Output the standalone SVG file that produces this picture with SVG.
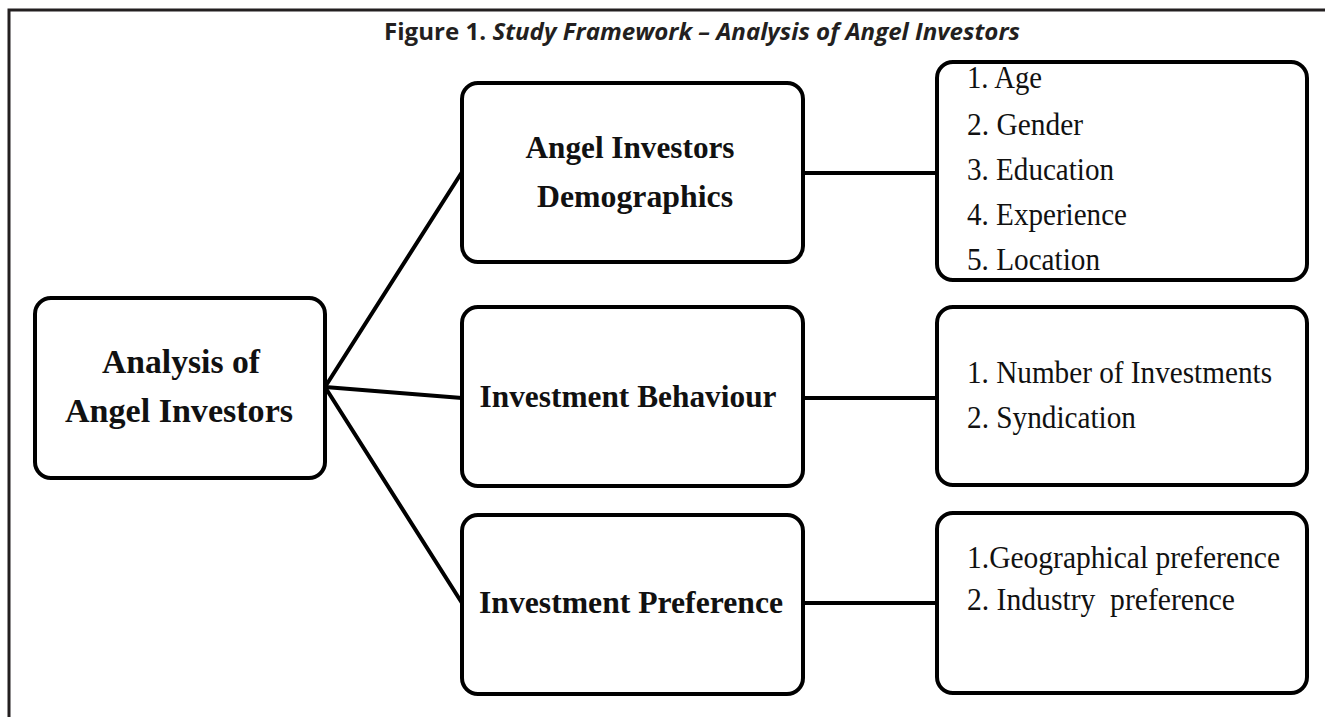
<svg xmlns="http://www.w3.org/2000/svg" width="1325" height="717" viewBox="0 0 1325 717">
<style>
.box{fill:#fff;stroke:#000;stroke-width:4}
.conn line{stroke:#000;stroke-width:4;stroke-linecap:round}
.frame{stroke:#231f20;stroke-width:3;fill:none}
.title{font-family:"Open Sans","Liberation Sans",sans-serif;font-weight:bold;font-size:24px;fill:#231f20}
.bold{font-family:"Liberation Serif",serif;font-weight:bold;fill:#111;text-anchor:middle}
.list{font-family:"Liberation Serif",serif;font-size:32px;fill:#111}
</style>
<rect width="1325" height="717" fill="#fff"/>
<path class="frame" d="M9,717 V10 H1325"/>
<text class="title" x="702" y="40" text-anchor="middle" textLength="636" lengthAdjust="spacingAndGlyphs">Figure 1. <tspan font-style="italic">Study Framework – Analysis of Angel Investors</tspan></text>
<g class="conn">
<line x1="325" y1="387" x2="462" y2="172"/>
<line x1="325" y1="387" x2="462" y2="398"/>
<line x1="325" y1="387" x2="462" y2="603"/>
<line x1="803" y1="173" x2="937" y2="173"/>
<line x1="803" y1="398" x2="937" y2="398"/>
<line x1="803" y1="603" x2="937" y2="603"/>
</g>
<g id="root">
<rect class="box" x="35" y="298" width="290" height="180" rx="16"/>
<text class="bold" x="181" y="373" font-size="34" textLength="158" lengthAdjust="spacingAndGlyphs">Analysis of</text>
<text class="bold" x="179" y="422" font-size="34" textLength="228" lengthAdjust="spacingAndGlyphs">Angel Investors</text>
</g>
<g id="demographics">
<rect class="box" x="462" y="83" width="341" height="179" rx="16"/>
<text class="bold" x="630" y="158" font-size="32" textLength="209" lengthAdjust="spacingAndGlyphs">Angel Investors</text>
<text class="bold" x="635" y="207" font-size="32" textLength="196" lengthAdjust="spacingAndGlyphs">Demographics</text>
</g>
<g id="behaviour">
<rect class="box" x="462" y="307" width="341" height="179" rx="16"/>
<text class="bold" x="628" y="407" font-size="32" textLength="297" lengthAdjust="spacingAndGlyphs">Investment Behaviour</text>
</g>
<g id="preference">
<rect class="box" x="462" y="515" width="341" height="179" rx="16"/>
<text class="bold" x="631" y="613" font-size="32" textLength="304" lengthAdjust="spacingAndGlyphs">Investment Preference</text>
</g>
<g id="demographics-list">
<rect class="box" x="937" y="62" width="370" height="218" rx="16"/>
<text class="list" x="967" y="88" textLength="75" lengthAdjust="spacingAndGlyphs">1. Age</text>
<text class="list" x="967" y="135" textLength="116" lengthAdjust="spacingAndGlyphs">2. Gender</text>
<text class="list" x="967" y="180" textLength="147" lengthAdjust="spacingAndGlyphs">3. Education</text>
<text class="list" x="967" y="225" textLength="160" lengthAdjust="spacingAndGlyphs">4. Experience</text>
<text class="list" x="967" y="270" textLength="133" lengthAdjust="spacingAndGlyphs">5. Location</text>
</g>
<g id="behaviour-list">
<rect class="box" x="937" y="307" width="370" height="178" rx="16"/>
<text class="list" x="967" y="383" textLength="305" lengthAdjust="spacingAndGlyphs">1. Number of Investments</text>
<text class="list" x="967" y="428" textLength="169" lengthAdjust="spacingAndGlyphs">2. Syndication</text>
</g>
<g id="preference-list">
<rect class="box" x="937" y="513" width="370" height="180" rx="16"/>
<text class="list" x="967" y="568" textLength="313" lengthAdjust="spacingAndGlyphs">1.Geographical preference</text>
<text class="list" x="967" y="610" textLength="268" lengthAdjust="spacingAndGlyphs" xml:space="preserve">2. Industry  preference</text>
</g>
</svg>
